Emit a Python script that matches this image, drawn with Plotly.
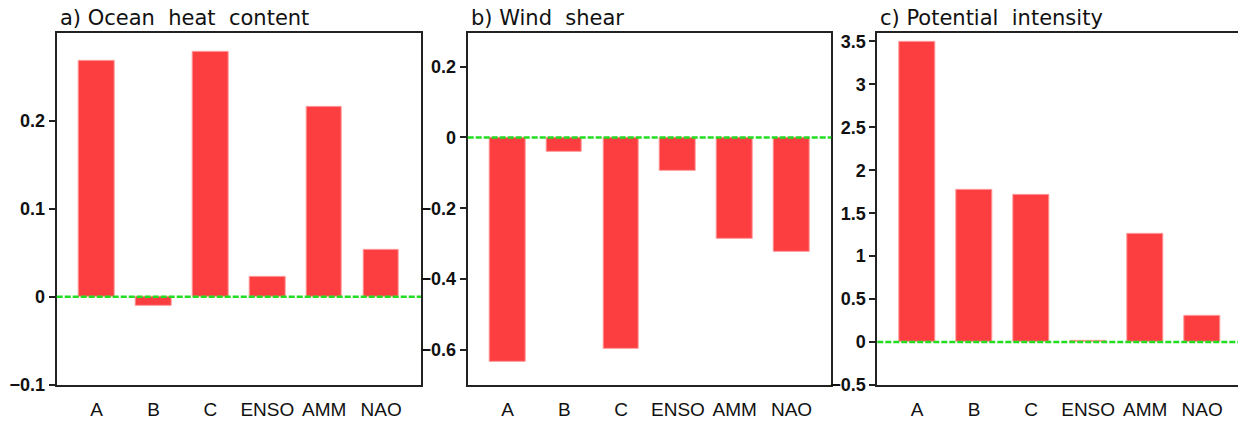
import plotly.graph_objects as go

categories = ["A", "B", "C", "ENSO", "AMM", "NAO"]
ocean_heat = [0.268, -0.010, 0.278, 0.023, 0.215, 0.053]
wind_shear = [-0.636, -0.040, -0.598, -0.094, -0.286, -0.324]
pot_intensity = [3.50, 1.777, 1.71, 0.015, 1.26, 0.30]
titles = ["a) Ocean  heat  content", "b) Wind  shear", "c) Potential  intensity"]

W, H = 1238, 431
panels = [
    dict(vals=ocean_heat, x0=56.7, x1=421.0, xr=[-0.7, 5.7], ymirror=True,
         yr=[-0.1, 0.2995], tv=[-0.1, 0, 0.1, 0.2], tt=["\u22120.1", "0", "0.1", "0.2"]),
    dict(vals=wind_shear, x0=467.7, x1=831.3, xr=[-0.7, 5.7], ymirror=True,
         yr=[-0.7, 0.296], tv=[-0.6, -0.4, -0.2, 0, 0.2],
         tt=["\u22120.6", "\u22120.4", "\u22120.2", "0", "0.2"]),
    dict(vals=pot_intensity, x0=877.3, x1=1238.0, xr=[-0.7, 5.63], ymirror=False,
         yr=[-0.5, 3.60], tv=[-0.5, 0, 0.5, 1, 1.5, 2, 2.5, 3, 3.5],
         tt=["\u22120.5", "0", "0.5", "1", "1.5", "2", "2.5", "3", "3.5"]),
]
ytop, ybot = 32.7, 394.0


def px(v):
    return v / W


def py(v):
    return 1 - v / H


fig = go.Figure()
for i, p in enumerate(panels):
    n = "" if i == 0 else str(i + 1)
    fig.add_trace(go.Bar(
        x=categories, y=p["vals"], width=0.63,
        marker=dict(color="#fd3e40", line=dict(color="#ff9a9a", width=1)),
        xaxis="x" + n, yaxis="y" + n, showlegend=False,
    ))
    fig.add_shape(
        type="line", xref="x" + n + " domain", yref="y" + n,
        x0=0, x1=1, y0=0, y1=0, layer="above",
        line=dict(color="#22dd22", width=2.5, dash="6px,2px"),
    )
    fig.update_layout(**{
        "xaxis" + n: dict(
            domain=[px(p["x0"]), px(p["x1"])], anchor="y" + n,
            range=p["xr"], type="category",
            showline=True, linewidth=2, linecolor="#222222", mirror=True,
            ticks="", showgrid=False, zeroline=False,
            tickfont=dict(family="Liberation Sans", size=19, color="#111111"),
            ticklabelstandoff=6,
        ),
        "yaxis" + n: dict(
            domain=[py(ybot), py(ytop)], anchor="x" + n,
            range=p["yr"], tickvals=p["tv"], ticktext=p["tt"],
            showline=True, linewidth=2, linecolor="#222222", mirror=p["ymirror"],
            ticks="outside", ticklen=6, tickwidth=2, tickcolor="#222222",
            showgrid=False, zeroline=False,
            tickfont=dict(family="Liberation Sans", size=18, color="#111111", weight="bold"),
        ),
    })
    fig.add_annotation(
        x=px(p["x0"] + 1), y=py(17), xref="paper", yref="paper",
        text=titles[i], showarrow=False, xanchor="left", yanchor="middle",
        font=dict(family="DejaVu Sans", size=21, color="#111111"),
    )

fig.update_layout(
    width=W, height=H, margin=dict(l=0, r=0, t=0, b=0),
    paper_bgcolor="white", plot_bgcolor="white", bargap=0,
)
fig.write_html(
    "out.html",
    config={"displayModeBar": False},
    post_script="document.body.style.margin='0';document.body.style.overflow='hidden';",
)
